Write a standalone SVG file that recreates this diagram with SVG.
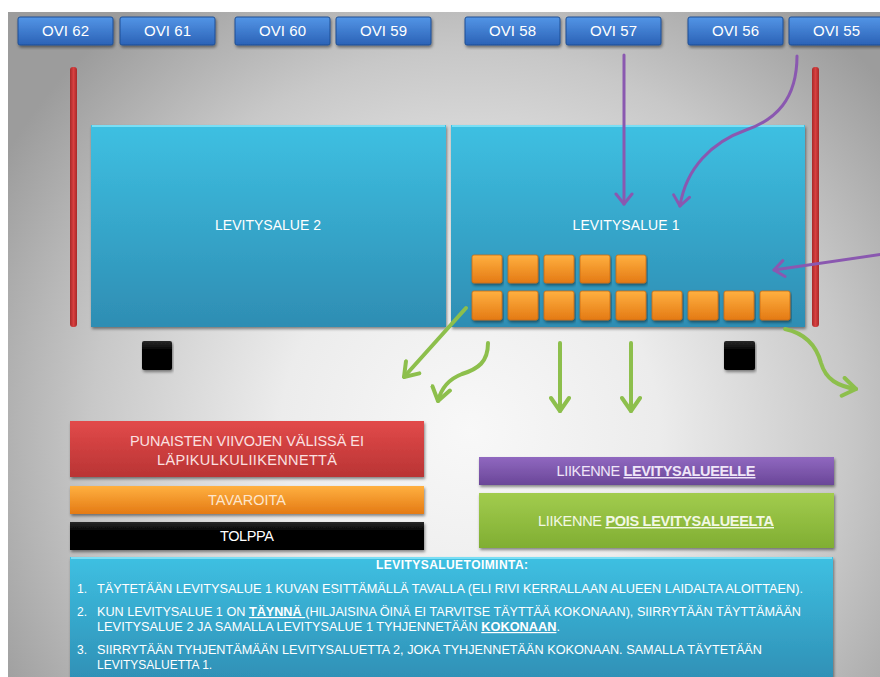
<svg xmlns="http://www.w3.org/2000/svg" width="880" height="677" viewBox="0 0 880 677">
  <defs>
    <radialGradient id="bg" gradientUnits="userSpaceOnUse" cx="470" cy="430" r="540">
      <stop offset="0" stop-color="#f8f8f8"/>
      <stop offset="0.35" stop-color="#ececec"/>
      <stop offset="0.7" stop-color="#c8c8c8"/>
      <stop offset="1" stop-color="#9c9c9c"/>
    </radialGradient>
    <linearGradient id="gBlue" x1="0" y1="0" x2="0" y2="1">
      <stop offset="0" stop-color="#5395e6"/>
      <stop offset="1" stop-color="#2b62b6"/>
    </linearGradient>
    <linearGradient id="gCyan" x1="0" y1="0" x2="0" y2="1">
      <stop offset="0" stop-color="#3ec0e2"/>
      <stop offset="1" stop-color="#2e8db3"/>
    </linearGradient>
    <linearGradient id="gOrange" x1="0" y1="0" x2="0" y2="1">
      <stop offset="0" stop-color="#ffb040"/>
      <stop offset="1" stop-color="#e47a14"/>
    </linearGradient>
    <linearGradient id="gRed" x1="0" y1="0" x2="0" y2="1">
      <stop offset="0" stop-color="#e24a4a"/>
      <stop offset="1" stop-color="#b93434"/>
    </linearGradient>
    <linearGradient id="gBlack" x1="0" y1="0" x2="0" y2="1">
      <stop offset="0" stop-color="#2a2a2a"/>
      <stop offset="0.3" stop-color="#050505"/>
      <stop offset="1" stop-color="#000"/>
    </linearGradient>
    <linearGradient id="gPurple" x1="0" y1="0" x2="0" y2="1">
      <stop offset="0" stop-color="#9068c0"/>
      <stop offset="1" stop-color="#6a4698"/>
    </linearGradient>
    <linearGradient id="gGreen" x1="0" y1="0" x2="0" y2="1">
      <stop offset="0" stop-color="#a2cc4e"/>
      <stop offset="1" stop-color="#80ae32"/>
    </linearGradient>
    <linearGradient id="gBar" x1="0" y1="0" x2="1" y2="0">
      <stop offset="0" stop-color="#a82828"/>
      <stop offset="0.5" stop-color="#d84040"/>
      <stop offset="1" stop-color="#a82828"/>
    </linearGradient>
    <filter id="shadow" x="-5%" y="-5%" width="110%" height="120%">
      <feDropShadow dx="1" dy="2" stdDeviation="1.5" flood-color="#000" flood-opacity="0.45"/>
    </filter>
    <marker id="headPurple" viewBox="-12 -10 14 20" markerWidth="14" markerHeight="20" refX="0" refY="0" orient="auto" markerUnits="userSpaceOnUse">
      <path d="M-10,-8 L0,0 L-10,8" fill="none" stroke="#8a58b0" stroke-width="3" stroke-linecap="round" stroke-linejoin="round"/>
    </marker>
    <marker id="headGreen" viewBox="-16 -11 18 22" markerWidth="18" markerHeight="22" refX="0" refY="0" orient="auto" markerUnits="userSpaceOnUse">
      <path d="M-13,-9 L0,0 L-13,9" fill="none" stroke="#8dbf4c" stroke-width="4" stroke-linecap="round" stroke-linejoin="round"/>
    </marker>
    <style>
      .lbl { font-family: "Liberation Sans", Arial, sans-serif; fill: #fff; text-anchor: middle; }
      .door rect { fill: url(#gBlue); stroke: #1f4f94; stroke-width: 1; filter: url(#shadow); }
      .door text { font-size: 15px; }
      .area { fill: url(#gCyan); filter: url(#shadow); }
      .hl { stroke: #8fe8fa; stroke-width: 1.5; }
      .box { fill: url(#gOrange); stroke: #c86a12; stroke-width: 0.8; filter: url(#shadow); }
      .post { fill: url(#gBlack); filter: url(#shadow); }
      .bar { fill: url(#gBar); }
      .leg text { font-size: 14.5px; }
      .body { font-family: "Liberation Sans", Arial, sans-serif; fill: #fff; font-size: 12px; }
      .purple { fill: none; stroke: #8a58b0; stroke-width: 3; stroke-linecap: round; marker-end: url(#headPurple); }
      .green { fill: none; stroke: #8dbf4c; stroke-width: 4; stroke-linecap: round; marker-end: url(#headGreen); }
      .u { text-decoration: underline; font-weight: bold; }
    </style>
  </defs>

  <!-- background -->
  <rect x="0" y="0" width="880" height="677" fill="#fff"/>
  <rect x="8" y="12" width="872" height="665" fill="url(#bg)"/>

  <!-- doors -->
  <g id="ovi62" class="door"><rect x="18" y="17" width="95" height="28" rx="2"/><text class="lbl" x="65.5" y="36" textLength="47">OVI 62</text></g>
  <g id="ovi61" class="door"><rect x="120" y="17" width="95" height="28" rx="2"/><text class="lbl" x="167.5" y="36" textLength="47">OVI 61</text></g>
  <g id="ovi60" class="door"><rect x="235" y="17" width="95" height="28" rx="2"/><text class="lbl" x="282.5" y="36" textLength="47">OVI 60</text></g>
  <g id="ovi59" class="door"><rect x="336" y="17" width="95" height="28" rx="2"/><text class="lbl" x="383.5" y="36" textLength="47">OVI 59</text></g>
  <g id="ovi58" class="door"><rect x="465" y="17" width="95" height="28" rx="2"/><text class="lbl" x="512.5" y="36" textLength="47">OVI 58</text></g>
  <g id="ovi57" class="door"><rect x="566" y="17" width="95" height="28" rx="2"/><text class="lbl" x="613.5" y="36" textLength="47">OVI 57</text></g>
  <g id="ovi56" class="door"><rect x="688" y="17" width="95" height="28" rx="2"/><text class="lbl" x="735.5" y="36" textLength="47">OVI 56</text></g>
  <g id="ovi55" class="door"><rect x="789" y="17" width="95" height="28" rx="2"/><text class="lbl" x="836.5" y="36" textLength="47">OVI 55</text></g>

  <!-- red boundary lines -->
  <g id="boundaries">
    <rect class="bar" x="70" y="67" width="7" height="260" rx="3"/>
    <rect class="bar" x="812" y="67" width="7" height="260" rx="3"/>
  </g>

  <!-- spreading areas -->
  <g id="levitysalue2">
    <rect class="area" x="91" y="125" width="355" height="202"/>
    <line class="hl" x1="92" y1="126" x2="445" y2="126"/>
    <text class="lbl" x="268" y="230" font-size="14" textLength="106">LEVITYSALUE 2</text>
  </g>
  <g id="levitysalue1">
    <rect class="area" x="451" y="125" width="354" height="202"/>
    <line class="hl" x1="452" y1="126" x2="804" y2="126"/>
    <text class="lbl" x="626" y="230" font-size="14" textLength="107">LEVITYSALUE 1</text>
  </g>

  <!-- goods -->
  <g id="tavarat">
    <rect class="box" x="472" y="255" width="30" height="28" rx="2"/>
    <rect class="box" x="508" y="255" width="30" height="28" rx="2"/>
    <rect class="box" x="544" y="255" width="30" height="28" rx="2"/>
    <rect class="box" x="580" y="255" width="30" height="28" rx="2"/>
    <rect class="box" x="616" y="255" width="30" height="28" rx="2"/>
    <rect class="box" x="472" y="291" width="30" height="29" rx="2"/>
    <rect class="box" x="508" y="291" width="30" height="29" rx="2"/>
    <rect class="box" x="544" y="291" width="30" height="29" rx="2"/>
    <rect class="box" x="580" y="291" width="30" height="29" rx="2"/>
    <rect class="box" x="616" y="291" width="30" height="29" rx="2"/>
    <rect class="box" x="652" y="291" width="30" height="29" rx="2"/>
    <rect class="box" x="688" y="291" width="30" height="29" rx="2"/>
    <rect class="box" x="724" y="291" width="30" height="29" rx="2"/>
    <rect class="box" x="760" y="291" width="30" height="29" rx="2"/>
  </g>

  <!-- posts -->
  <g id="tolppa1"><rect class="post" x="142" y="341" width="30" height="29" rx="2"/></g>
  <g id="tolppa2"><rect class="post" x="724" y="341" width="31" height="29" rx="2"/></g>

  <!-- traffic arrows -->
  <g id="connectors">
    <path class="purple" d="M624,55 L624,204"/>
    <path class="purple" d="M797,56 C797,100 775,120 746,130 C712,142 686,168 680,206"/>
    <path class="purple" d="M884,254 L774,270"/>
    <path class="green" d="M466,308 L404,377"/>
    <path class="green" d="M488,343 C488,362 478,369 462,374 C449,379 441,389 438,401"/>
    <path class="green" d="M560,343 L560,411"/>
    <path class="green" d="M631,343 L631,411"/>
    <path class="green" d="M785,329 C808,334 817,348 821,363 C826,380 838,386 856,389"/>
  </g>

  <!-- legend -->
  <g id="leg-red" class="leg">
    <rect x="70" y="421" width="354" height="56" fill="url(#gRed)" filter="url(#shadow)"/>
    <text class="lbl" x="247" y="446" style="fill:#fbe0e0" textLength="234">PUNAISTEN VIIVOJEN VÄLISSÄ EI</text>
    <text class="lbl" x="247" y="465" style="fill:#fbe0e0" textLength="180">LÄPIKULKULIIKENNETTÄ</text>
  </g>
  <g id="leg-orange" class="leg">
    <rect x="70" y="486" width="354" height="28" fill="url(#gOrange)" filter="url(#shadow)"/>
    <text class="lbl" x="247" y="505" style="fill:#fde6cc" textLength="78">TAVAROITA</text>
  </g>
  <g id="leg-black" class="leg">
    <rect x="70" y="522" width="354" height="28" fill="url(#gBlack)" filter="url(#shadow)"/>
    <text class="lbl" x="247" y="541" textLength="54">TOLPPA</text>
  </g>
  <g id="leg-purple" class="leg">
    <rect x="479" y="457" width="355" height="28" fill="url(#gPurple)" filter="url(#shadow)"/>
    <text class="lbl" x="656" y="476" style="fill:#efe6f8" textLength="199">LIIKENNE <tspan class="u">LEVITYSALUEELLE</tspan></text>
  </g>
  <g id="leg-green" class="leg">
    <rect x="479" y="493" width="355" height="55" fill="url(#gGreen)" filter="url(#shadow)"/>
    <text class="lbl" x="656" y="526" style="fill:#f2f8e4" textLength="236">LIIKENNE <tspan class="u">POIS LEVITYSALUEELTA</tspan></text>
  </g>

  <!-- procedure -->
  <g id="ohje">
    <rect x="70" y="557" width="763" height="130" fill="url(#gCyan)" filter="url(#shadow)"/>
    <line class="hl" x1="71" y1="558" x2="832" y2="558"/>
    <text class="body" x="452" y="569" text-anchor="middle" font-weight="bold" textLength="152">LEVITYSALUETOIMINTA:</text>
    <text class="body" x="77" y="593">1.</text>
    <text class="body" x="97" y="593" textLength="706" lengthAdjust="spacingAndGlyphs">TÄYTETÄÄN LEVITYSALUE 1 KUVAN ESITTÄMÄLLÄ TAVALLA (ELI RIVI KERRALLAAN ALUEEN LAIDALTA ALOITTAEN).</text>
    <text class="body" x="77" y="616">2.</text>
    <text class="body" x="97" y="616" textLength="704" lengthAdjust="spacingAndGlyphs">KUN LEVITYSALUE 1 ON <tspan class="u">TÄYNNÄ </tspan>(HILJAISINA ÖINÄ EI TARVITSE TÄYTTÄÄ KOKONAAN), SIIRRYTÄÄN TÄYTTÄMÄÄN</text>
    <text class="body" x="97" y="631" textLength="463" lengthAdjust="spacingAndGlyphs">LEVITYSALUE 2 JA SAMALLA LEVITYSALUE 1 TYHJENNETÄÄN <tspan class="u">KOKONAAN</tspan>.</text>
    <text class="body" x="77" y="654">3.</text>
    <text class="body" x="97" y="654" textLength="665" lengthAdjust="spacingAndGlyphs">SIIRRYTÄÄN TYHJENTÄMÄÄN LEVITYSALUETTA 2, JOKA TYHJENNETÄÄN KOKONAAN. SAMALLA TÄYTETÄÄN</text>
    <text class="body" x="97" y="669">LEVITYSALUETTA 1.</text>
  </g>
</svg>
